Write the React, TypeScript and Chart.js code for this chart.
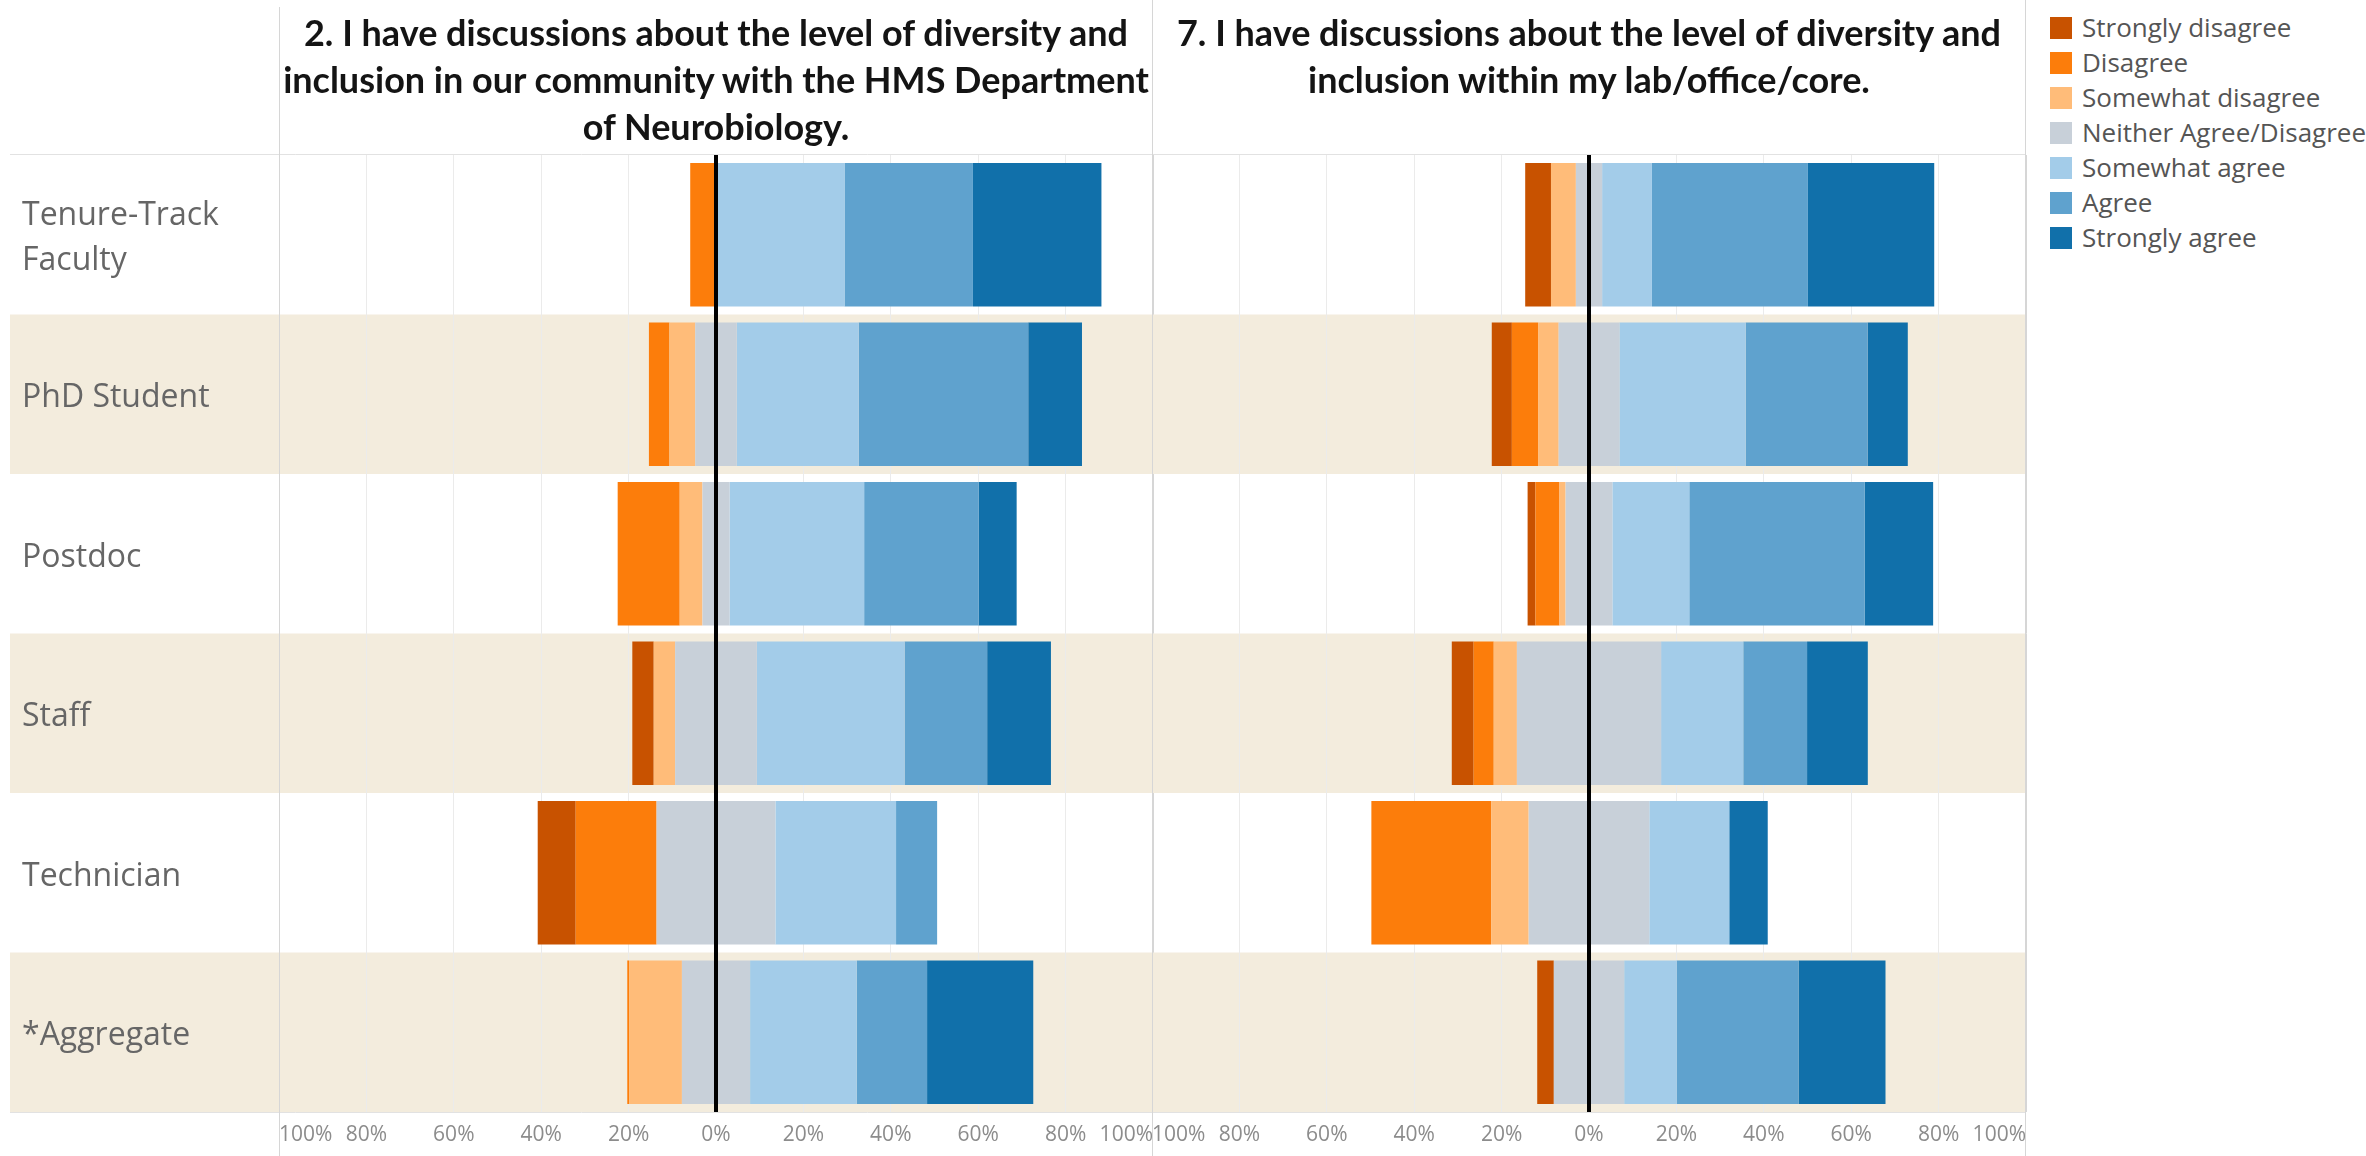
import React, { useEffect, useRef } from "react";
import { Chart, registerables } from "chart.js";

Chart.register(...registerables);

// ---------- data ----------
const categories: (string | string[])[] = [
  ["Tenure-Track", "Faculty"],
  "PhD Student",
  "Postdoc",
  "Staff",
  "Technician",
  "*Aggregate",
];

const responseLevels = [
  "Strongly disagree",
  "Disagree",
  "Somewhat disagree",
  "Neither Agree/Disagree",
  "Somewhat agree",
  "Agree",
  "Strongly agree",
];

const levelColors = ["#c85200", "#fc7d0b", "#ffbc79", "#c8d0d9", "#a3cce9", "#5fa2ce", "#1170aa"];

const xTickValues = [-100, -80, -60, -40, -20, 0, 20, 40, 60, 80, 100];

const q2Title = [
  "2. I have discussions about the level of diversity and",
  "inclusion in our community with the HMS Department",
  "of Neurobiology.",
];
const q7Title = [
  "7. I have discussions about the level of diversity and",
  "inclusion within my lab/office/core.",
];

// Question 2 (percent of respondents)
const q2StronglyDisagree = [0, 0, 0, 4.9, 8.7, 0];
const q2Disagree = [5.9, 4.7, 14.2, 0, 18.5, 0.4];
const q2SomewhatDisagree = [0, 5.9, 5.2, 4.9, 0, 12.1];
const q2Neither = [0, 9.5, 6.2, 18.7, 27.2, 15.6];
const q2SomewhatAgree = [29.4, 27.9, 30.8, 33.8, 27.6, 24.4];
const q2Agree = [29.4, 38.8, 26.2, 18.9, 9.4, 16.1];
const q2StronglyAgree = [29.4, 12.3, 8.7, 14.6, 0, 24.3];

// Question 7 (percent of respondents)
const q7StronglyDisagree = [5.9, 4.6, 1.8, 5.0, 0, 3.8];
const q7Disagree = [0, 6.0, 5.5, 4.6, 27.4, 0];
const q7SomewhatDisagree = [5.7, 4.7, 1.4, 5.3, 8.6, 0];
const q7Neither = [6.0, 13.9, 10.7, 33.0, 27.6, 16.1];
const q7SomewhatAgree = [11.4, 28.9, 17.6, 18.8, 18.3, 12.0];
const q7Agree = [35.7, 27.9, 40.1, 14.6, 0, 27.9];
const q7StronglyAgree = [28.9, 9.2, 15.7, 13.9, 8.8, 19.9];

// ---------- helpers ----------
const neg = (arr: number[]) => arr.map((v) => (v === 0 ? null : -v));
const pos = (arr: number[]) => arr.map((v) => (v === 0 ? null : v));

function buildDatasets(
  sd: number[], d: number[], swd: number[], n: number[], swa: number[], a: number[], sa: number[]
) {
  return [
    { label: responseLevels[3], data: n.map((v) => (v === 0 ? null : -v / 2)), backgroundColor: levelColors[3] },
    { label: responseLevels[3] + " ", data: n.map((v) => (v === 0 ? null : v / 2)), backgroundColor: levelColors[3] },
    { label: responseLevels[2], data: neg(swd), backgroundColor: levelColors[2] },
    { label: responseLevels[1], data: neg(d), backgroundColor: levelColors[1] },
    { label: responseLevels[0], data: neg(sd), backgroundColor: levelColors[0] },
    { label: responseLevels[4], data: pos(swa), backgroundColor: levelColors[4] },
    { label: responseLevels[5], data: pos(a), backgroundColor: levelColors[5] },
    { label: responseLevels[6], data: pos(sa), backgroundColor: levelColors[6] },
  ];
}

const BAND = "#f3ecdd";
const BORDER = "#d6d6d6";

function decorPlugin(bandStartX: number | null) {
  return {
    id: "decor",
    beforeDraw(chart: any) {
      const { ctx, chartArea, scales } = chart;
      const y = scales.y;
      const step = (chartArea.bottom - chartArea.top) / categories.length;
      const x0 = bandStartX === null ? chartArea.left : bandStartX;
      ctx.save();
      ctx.fillStyle = BAND;
      categories.forEach((_, i) => {
        if (i % 2 === 1) {
          const c = y.getPixelForValue(i);
          ctx.fillRect(x0, c - step / 2, chartArea.right - x0, step);
        }
      });
      ctx.strokeStyle = "#e2e2e2";
      ctx.lineWidth = 1;
      ctx.beginPath();
      ctx.moveTo(x0, Math.round(chartArea.top) - 0.5);
      ctx.lineTo(chartArea.right, Math.round(chartArea.top) - 0.5);
      ctx.moveTo(x0, Math.round(chartArea.bottom) + 0.5);
      ctx.lineTo(chartArea.right, Math.round(chartArea.bottom) + 0.5);
      ctx.stroke();
      ctx.restore();
    },
    afterDraw(chart: any) {
      const { ctx, chartArea, height } = chart;
      ctx.save();
      ctx.strokeStyle = BORDER;
      ctx.lineWidth = 1;
      ctx.beginPath();
      const l = Math.round(chartArea.left) + 0.5;
      const r = Math.round(chartArea.right) - 0.5;
      ctx.moveTo(l, 7);
      ctx.lineTo(l, height);
      ctx.moveTo(r, 0);
      ctx.lineTo(r, height);
      ctx.stroke();
      ctx.restore();
    },
  };
}

const zeroLinePlugin = {
  id: "zeroLine",
  afterDatasetsDraw(chart: any) {
    const { ctx, chartArea, scales } = chart;
    const x = scales.x.getPixelForValue(0);
    ctx.save();
    ctx.strokeStyle = "#000";
    ctx.lineWidth = 4;
    ctx.beginPath();
    ctx.moveTo(x, chartArea.top);
    ctx.lineTo(x, chartArea.bottom);
    ctx.stroke();
    ctx.restore();
  },
};

function makeConfig(datasets: any[], showLabels: boolean, padLeft: number, padRight: number, bandStartX: number | null) {
  return {
    type: "bar" as const,
    data: { labels: categories, datasets },
    options: {
      indexAxis: "y" as const,
      responsive: false,
      animation: false as const,
      devicePixelRatio: 1,
      layout: { padding: { left: padLeft, right: padRight, top: 155, bottom: 0 } },
      plugins: { legend: { display: false }, tooltip: { enabled: false }, title: { display: false } },
      datasets: { bar: { barPercentage: 0.9, categoryPercentage: 1, borderWidth: 0 } },
      scales: {
        x: {
          type: "linear" as const,
          min: -100,
          max: 100,
          stacked: true,
          afterBuildTicks: (s: any) => {
            s.ticks = xTickValues.map((v) => ({ value: v }));
          },
          afterFit: (s: any) => {
            s.height = 44;
            s.paddingLeft = 0;
            s.paddingRight = 0;
          },
          ticks: {
            autoSkip: false,
            maxRotation: 0,
            align: "inner" as const,
            padding: 10,
            color: "#8c8c8c",
            font: { family: "'Open Sans', sans-serif", size: 21 },
            callback: (v: any) => Math.abs(Number(v)) + "%",
          },
          grid: {
            drawTicks: false,
            lineWidth: 1,
            color: (ctx: any) => {
              const v = ctx.tick ? ctx.tick.value : null;
              if (v === 0) return "rgba(0,0,0,0)";
              if (v === 100 || v === -100) return BORDER;
              return "#ebebeb";
            },
          },
          border: { display: false },
        },
        y: {
          type: "category" as const,
          stacked: true,
          display: showLabels,
          grid: { display: false },
          border: { display: false },
          afterFit: (s: any) => {
            s.width = showLabels ? 257 : 0;
            s.paddingTop = 0;
            s.paddingBottom = 0;
          },
          ticks: {
            crossAlign: "far" as const,
            padding: 0,
            labelOffset: 4,
            color: "#666666",
            font: { family: "'Open Sans', sans-serif", size: 32, lineHeight: 1.4 },
          },
        },
      },
    },
    plugins: [decorPlugin(bandStartX), zeroLinePlugin],
  };
}

export default function App() {
  const leftRef = useRef<HTMLCanvasElement | null>(null);
  const rightRef = useRef<HTMLCanvasElement | null>(null);

  useEffect(() => {
    const charts: Chart[] = [];
    if (leftRef.current) {
      charts.push(
        new Chart(
          leftRef.current,
          makeConfig(
            buildDatasets(q2StronglyDisagree, q2Disagree, q2SomewhatDisagree, q2Neither, q2SomewhatAgree, q2Agree, q2StronglyAgree),
            true, 22, 1, 10
          ) as any
        )
      );
    }
    if (rightRef.current) {
      charts.push(
        new Chart(
          rightRef.current,
          makeConfig(
            buildDatasets(q7StronglyDisagree, q7Disagree, q7SomewhatDisagree, q7Neither, q7SomewhatAgree, q7Agree, q7StronglyAgree),
            false, 2, 2, null
          ) as any
        )
      );
    }
    return () => charts.forEach((c) => c.destroy());
  }, []);

  const titleStyle = (left: number, width: number): React.CSSProperties => ({
    position: "absolute",
    left,
    top: 9,
    width,
    textAlign: "center",
    fontFamily: "Lato, 'Open Sans', sans-serif",
    fontWeight: 700,
    fontSize: 36,
    lineHeight: "47px",
    color: "#141414",
    whiteSpace: "nowrap",
  });

  return (
    <div
      style={{
        position: "absolute",
        left: 0,
        top: 0,
        width: 2366,
        height: 1156,
        background: "#ffffff",
        overflow: "hidden",
      }}
    >
      <canvas ref={leftRef} width={1154} height={1156} style={{ position: "absolute", left: 0, top: 0, width: 1154, height: 1156 }} />
      <canvas ref={rightRef} width={878} height={1156} style={{ position: "absolute", left: 1150, top: 0, width: 878, height: 1156 }} />
      <div style={titleStyle(279, 874)}>
        {q2Title.map((t, i) => (
          <div key={i}>{t}</div>
        ))}
      </div>
      <div style={titleStyle(1152, 874)}>
        {q7Title.map((t, i) => (
          <div key={i}>{t}</div>
        ))}
      </div>
      <div style={{ position: "absolute", left: 2050, top: 10, fontFamily: "'Open Sans', sans-serif", fontSize: 26, color: "#555555" }}>
        {responseLevels.map((lvl, i) => (
          <div key={lvl} style={{ display: "flex", alignItems: "center", height: 35, whiteSpace: "nowrap" }}>
            <span style={{ display: "inline-block", width: 22, height: 22, background: levelColors[i], marginRight: 10 }} />
            <span style={{ lineHeight: "35px" }}>{lvl}</span>
          </div>
        ))}
      </div>
    </div>
  );
}
